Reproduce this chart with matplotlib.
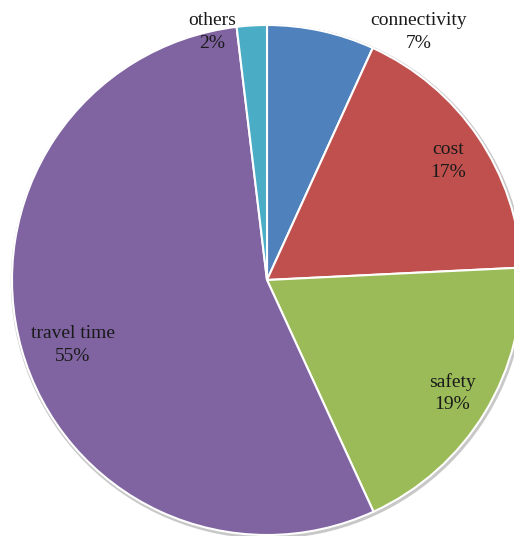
import matplotlib.pyplot as plt
from matplotlib.patches import Circle

categories = ['connectivity', 'cost', 'safety', 'travel time', 'others']
shares = [6.8, 17.4, 18.9, 54.9, 1.9]
colors = ['#4F81BD', '#C0504D', '#9BBB59', '#8064A2', '#4BACC6']

# label anchor points in pixels (x from left, y from top)
label_px = [(419, 32), (448, 161), (452, 393), (73, 345), (212, 32)]

W, H = 514, 536
cx, cy, R = 267, 280, 255

fig = plt.figure(figsize=(W / 100, H / 100), dpi=100)
ax = fig.add_axes([0, 0, 1, 1])
# faint shadow round the pie
ax.add_patch(Circle((0.004, -0.006), 1.006, color='#c8c8c8', zorder=0))
ax.pie(shares, colors=colors, startangle=90, counterclock=False,
       radius=1.0, wedgeprops=dict(edgecolor='white', linewidth=1.5))
ax.set_xlim(-cx / R, (W - cx) / R)
ax.set_ylim(-(H - cy) / R, cy / R)
ax.set_aspect('auto')
ax.axis('off')

total = sum(shares)
for name, val, (px, py) in zip(categories, shares, label_px):
    x = (px - cx) / R
    y = (cy - py) / R
    ax.text(x, y, '%s\n%.0f%%' % (name, val / total * 100), ha='center', va='center',
            fontsize=14, family='Liberation Serif', color='#1a1a1a',
            linespacing=1.45)

fig.savefig('out.png', dpi=100, facecolor='white')
